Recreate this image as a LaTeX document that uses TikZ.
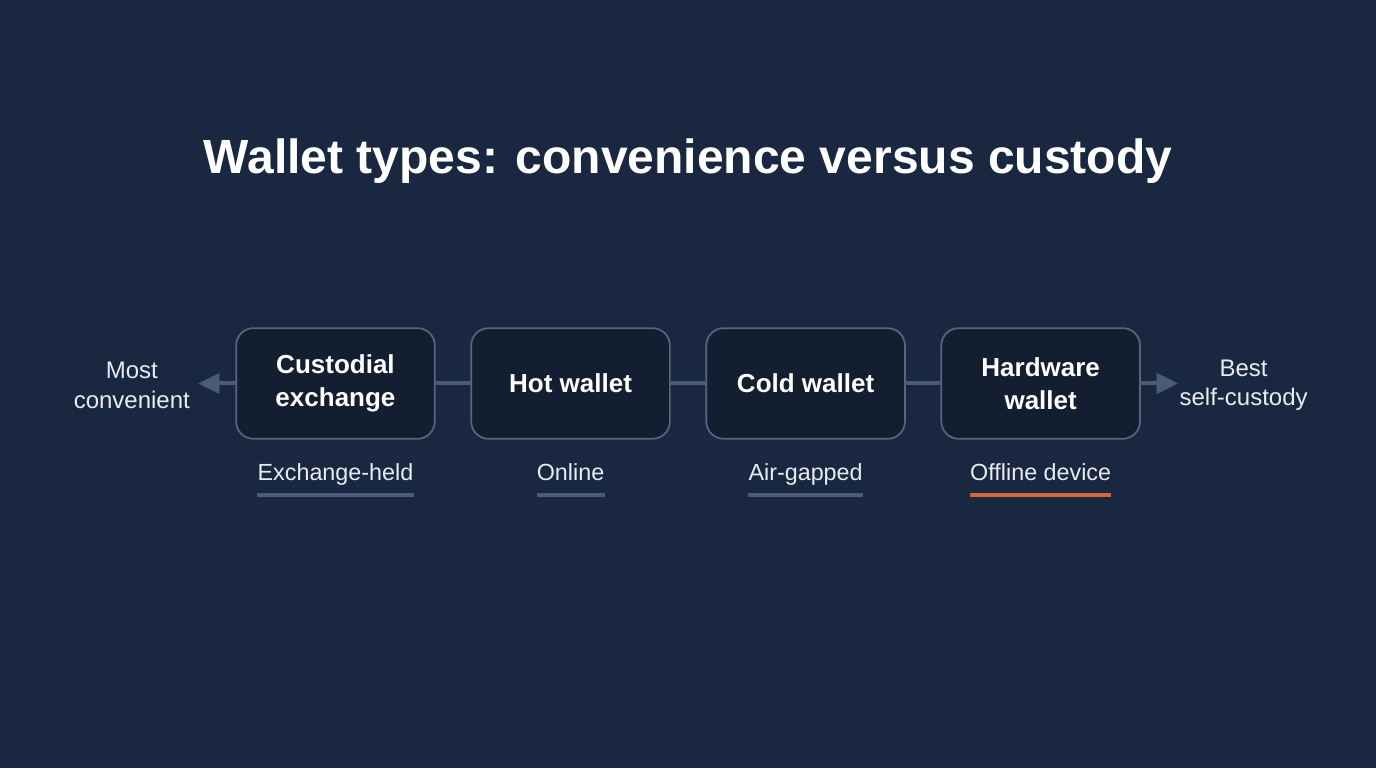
\documentclass[tikz,border=0pt]{standalone}
\usepackage{fontspec}
\setmainfont{Liberation Sans}
\usetikzlibrary{positioning,arrows.meta,calc}
\definecolor{bgnavy}{HTML}{1A2740}
\definecolor{boxfill}{HTML}{141E31}
\definecolor{boxline}{HTML}{56667F}
\definecolor{linkgray}{HTML}{4B5B76}
\definecolor{tagline}{HTML}{4C5C78}
\definecolor{accent}{HTML}{D4653D}
\definecolor{softwhite}{HTML}{E8ECF2}
\tikzset{
    wallet/.style={
        rectangle,
        rounded corners=13pt,
        draw=boxline,
        line width=1.3pt,
        outer sep=0pt,
        fill=boxfill,
        text=white,
        minimum width=149pt,
        minimum height=83pt,
        align=center,
        font=\bfseries\fontsize{19.5}{25}\selectfont,
    },
    tag/.style={
        inner sep=0pt,
        anchor=base,
        text=softwhite,
        font=\fontsize{17.5}{21}\selectfont,
    },
    side/.style={
        inner sep=0pt,
        align=center,
        text=softwhite,
        font=\fontsize{18}{22}\selectfont,
    },
    link/.style={
        draw=linkgray,
        line width=3pt,
    },
    under/.style={
        draw=tagline,
        line width=3.4pt,
    },
}

\begin{document}
\begin{tikzpicture}[node distance=27.3pt,>={Triangle[length=16pt,width=15pt]}]
	    \fill[bgnavy] (0,0) rectangle (1032pt,-576pt);
	    \node[text=white,font=\bfseries\fontsize{36}{44}\selectfont] (title) at (516pt,-121pt) {Wallet types: convenience versus custody};
	    % the four wallets
	    \node [wallet] (cust) at (251.6pt,-287.6pt) {Custodial\\exchange};
	    \node [wallet] (hot) [right=of cust] {Hot wallet};
	    \node [wallet] (cold) [right=of hot] {Cold wallet};
	    \node [wallet] (hard) [right=of cold] {Hardware\\wallet};
	    \draw [link] (cust) -- (hot);
	    \draw [link] (hot) -- (cold);
	    \draw [link] (cold) -- (hard);
	    % ends of the scale
	    \coordinate (lend) at ($(cust.west)+(-28.5pt,0)$);
	    \coordinate (rend) at ($(hard.east)+(28.5pt,0)$);
	    \draw [link,->] (cust.west) -- (lend);
	    \draw [link,->] (hard.east) -- (rend);
	    \node [side,anchor=east] (most) at ($(lend)+(-6pt,-1.5pt)$) {Most\\convenient};
	    \node [side,anchor=west] (best) at ($(rend)+(1pt,-1.5pt)$) {Best\\self-custody};
	    % tags under the boxes
	    \node [tag] (tcust) at ($(cust.south)+(0,-31.5pt)$) {Exchange-held};
	    \node [tag] (thot) at ($(hot.south)+(0,-31.5pt)$) {Online};
	    \node [tag] (tcold) at ($(cold.south)+(0,-31.5pt)$) {Air-gapped};
	    \node [tag] (thard) at ($(hard.south)+(0,-31.5pt)$) {Offline device};
	    \draw [under] ($(tcust.base west)+(0,-10.5pt)$) -- ($(tcust.base east)+(0,-10.5pt)$);
	    \draw [under] ($(thot.base west)+(0,-10.5pt)$) -- ($(thot.base east)+(0,-10.5pt)$);
	    \draw [under] ($(tcold.base west)+(0,-10.5pt)$) -- ($(tcold.base east)+(0,-10.5pt)$);
	    \draw [under,draw=accent] ($(thard.base west)+(0,-10.5pt)$) -- ($(thard.base east)+(0,-10.5pt)$);
	\end{tikzpicture}
\end{document}
